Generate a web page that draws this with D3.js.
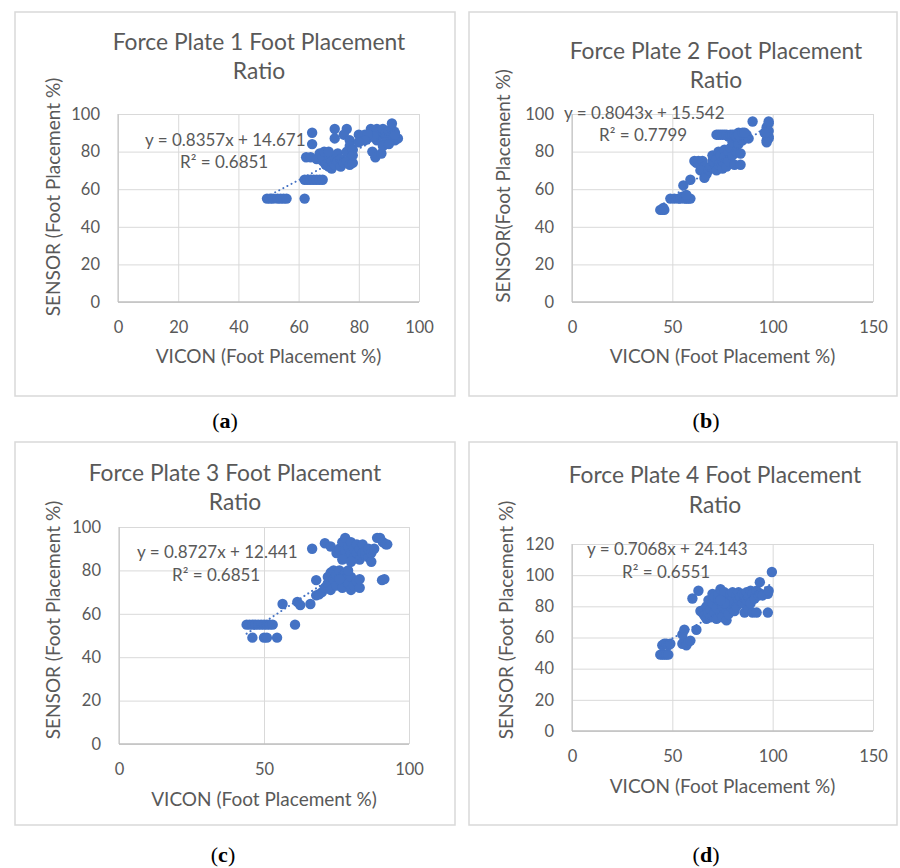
<!DOCTYPE html>
<html>
<head>
<meta charset="utf-8">
<script src="https://cdn.jsdelivr.net/npm/d3@7"></script>
<style>
	body { margin: 0; background: #fff; }
	svg text { font-family: Lato, "Open Sans", sans-serif; fill: #595959; }
	.grid line { stroke: #d9d9d9; stroke-width: 1; }
	.grid path { display: none; }
	.label text { font-family: "Liberation Serif", "DejaVu Serif", serif; fill: #000; }
</style>
</head>
<body>
<svg id="chart" width="900" height="868"></svg>
<script>
// values (VICON %, SENSOR %)
var plate1 = [
	[49.5,55],[50.5,55],[51.5,55],[53,55],[54,55],[55,55],[56,55],[62,55],
	[62,65],[63,65],[64,65],[65,65],[66,65],[67,65],[68,65],
	[62.5,77],[64,77],[64.5,90],[64.5,84],
	[66,76],[67,79],[68,75],[68,77],[69,73],[70,78],[70,72],[71,71],[71,75],[72,77],[72,73],
	[73,79],[73,75],[74,72],[74,76],[75,74],[76,75],[77,73],[78,74],[68.5,80],[70,80],
	[72,92],[76,92],[72,87],[75,89],[77,86],[77,83],[76,80],[78,81],[78,78],
	[80,89],[81,88],[82,89],[83,87],[84,90],[84,92],[85,91],[86,92],[87,89],[87,91],[88,92],
	[89,90],[89,88],[90,87],[90,91],[91,92],[91,95],[92,90],[92,86],[93,87],[92,89],[89,85],
	[86,86],[85,88],[83,89],[84.5,80],[85.5,77],[87.5,79],[88,83],[90,84],[82,86],[80,85]
];
var plate2 = [
	[44,49],[45,49],[46,49],[45.5,50],
	[49,55],[51,55],[53,55],[54,55],[55,56],[56,55],[57,55],[58,55],[59,55],[57,57],
	[55.5,62],[59,65],
	[61,75],[62,74],[63,75],[64,73],[65,75],[66,72],[64,70],[67,68],[66,66],[68,70],[69,72],
	[70,75],[70,78],[71,74],[72,70],[72,76],[73,80],[73,73],[74,78],[75,71],[75,75],[76,81],
	[76,77],[77,72],[78,80],[78,75],[79,82],[80,85],[80,78],[81,73],[82,80],[82,87],[83,84],
	[84,79],[84,73],[85,86],[86,88],[87,89],[88,87],[83,90],[84,89],
	[72,89],[73,89],[74,89],[75,89],[76,89],[77,89],[78,88],[79,89],[80,89],[81,89],[82,88],
	[83,89],[85,90],[86,90],
	[90,96],
	[97,86],[98,87],[97,89],[98,91],[97,93],[98,95],[98,88],[96,90],[98,96],[97,85]
];
var plate3 = [
	[44,55],[45,55],[46,55],[47,55],[48,55],[49,55],[50,55],[51,55],[52,55],[53,55],
	[46,49],[50,49],[51,49],[54.5,49],
	[60.7,55],[56.4,64.5],[61.5,65.5],[62.5,64],[66,64.5],
	[68,68.5],[69,69],[70,70],[68,75.5],[71,72],[72,74],[72,77],[73,79],[73,71],[74,76],[74,80],
	[75,78],[75,73],[76,80],[77,75],[77,72],[78,79],[78,76],[79,74],[80,71],[80,77],[81,73],
	[82,75],[83,72],[83,76],[76,76],[79,80],
	[66.6,90],[71,92.5],[73,91],[75,88],[76,90],[77,87],[77,93],[78,95],[78,89],[79,86],[79,91],
	[80,88],[80,93],[81,90],[81,86],[82,92],[82,88],[83,85],[83,90],[84,88],[84,92],[85,87],
	[85,89],[86,90],[86,86],[87,88],[87,84],[88,90],[77,85],[80,84],
	[89,95],[90,95],[91,93],[92,92],[92.5,92],[90.7,75.5],[91.5,76]
];
var plate4 = [
	[44,49],[45,49],[46,49],[47,49],[48,49],[45,55],[46,56],[47,56],[48,55],[49,56],
	[55,56],[56,58],[57,55],[58,57],[59,58],[55,62],[56,65],[62,65],
	[60,85],[63,90],
	[64,77],[65,76],[66,78],[66,74],[67,72],[67,80],[68,76],[68,84],[69,73],[69,78],[70,82],
	[70,88],[70,74],[71,76],[71,86],[72,72],[72,79],[73,84],[73,88],[74,91],[74,76],[75,80],
	[75,73],[76,86],[76,89],[77,71],[77,78],[78,83],[78,75],[79,88],[79,80],[80,85],[80,89],
	[81,82],[81,77],[82,87],[82,80],[83,89],[83,84],[84,86],[85,88],[85,82],[86,87],[86,76],
	[87,89],[87,84],[88,78],[88,86],[89,90],[89,82],[90,88],[90,76],[91,85],[92,90],[92,76],
	[93,87],[93.6,95.5],[94,88],[95,87],[97.6,76],[97.6,88],[98,90],[99.6,102],[76,82],[74,84]
];

var titles = [
	"Force Plate 1 Foot Placement",
	"Force Plate 2 Foot Placement",
	"Force Plate 3 Foot Placement",
	"Force Plate 4 Foot Placement"
];
var slopes = [0.8357, 0.8043, 0.8727, 0.7068];
var intercepts = [14.671, 15.542, 12.441, 24.143];
var rSquared = ["0.6851", "0.7799", "0.6851", "0.6551"];
var xTicks = [[0, 20, 40, 60, 80, 100], [0, 50, 100, 150], [0, 50, 100], [0, 50, 100, 150]];
var yTicks = [[0, 20, 40, 60, 80, 100], [0, 20, 40, 60, 80, 100], [0, 20, 40, 60, 80, 100], [0, 20, 40, 60, 80, 100, 120]];
var xTitles = ["VICON (Foot Placement %)", "VICON (Foot Placement %)", "VICON (Foot Placement %)", "VICON (Foot Placement %)"];
var yTitles = ["SENSOR (Foot Placement %)", "SENSOR(Foot Placement %)", "SENSOR (Foot Placement %)", "SENSOR (Foot Placement %)"];
var panelLetters = ["a", "b", "c", "d"];

var points = [plate1, plate2, plate3, plate4];

// where each chart sits on the page
var layout = [
	{ frame: [15, 12, 455, 396], plot: [118, 114, 419, 302], titleX: 259, titleY: [50, 79],
		eq: [145, 146], r2: [180, 168], xTitleY: 363, yTitle: [60, 197], label: [225, 428] },
	{ frame: [469, 12, 897, 396], plot: [572, 114, 873, 302], titleX: 716, titleY: [59, 88],
		eq: [564, 119], r2: [599, 141], xTitleY: 363, yTitle: [510, 186], label: [706, 428] },
	{ frame: [15, 442, 455, 825], plot: [119, 527, 409, 744], titleX: 235, titleY: [481, 510],
		eq: [137, 558], r2: [172, 581], xTitleY: 806, yTitle: [60, 620], label: [223, 862] },
	{ frame: [469, 442, 897, 825], plot: [572, 544, 873, 731], titleX: 715, titleY: [483, 513],
		eq: [587, 555], r2: [622, 578], xTitleY: 793, yTitle: [513, 620], label: [706, 862] }
];

var svg = d3.select("#chart");
var blue = "#4472c4";

layout.forEach(function(L, i) {
	var g = svg.append("g");
	var p = L.plot;
	var w = p[2] - p[0], h = p[3] - p[1];

	g.append("rect")
		.attr("x", L.frame[0]).attr("y", L.frame[1])
		.attr("width", L.frame[2] - L.frame[0])
		.attr("height", L.frame[3] - L.frame[1])
		.attr("fill", "#fff")
		.attr("stroke", "#d9d9d9")
		.attr("stroke-width", 1.5);

	var xt = xTicks[i], yt = yTicks[i];
	var x = d3.scaleLinear().domain([xt[0], xt[xt.length - 1]]).range([p[0], p[2]]);
	var y = d3.scaleLinear().domain([yt[0], yt[yt.length - 1]]).range([p[3], p[1]]);

	g.append("g")
		.attr("class", "grid")
		.attr("transform", "translate(0," + p[3] + ")")
		.call(d3.axisBottom(x).tickValues(xt).tickSize(-h).tickPadding(19))
		.call(function(a) { a.selectAll("text").attr("font-size", 16.5).attr("fill", "#595959"); });

	g.append("g")
		.attr("class", "grid")
		.attr("transform", "translate(" + p[0] + ",0)")
		.call(d3.axisLeft(y).tickValues(yt).tickSize(-w).tickPadding(18))
		.call(function(a) { a.selectAll("text").attr("font-size", 16.5).attr("fill", "#595959"); });

	// axis lines
	g.append("line")
		.attr("x1", p[0]).attr("x2", p[2]).attr("y1", p[3]).attr("y2", p[3])
		.attr("stroke", "#bfbfbf").attr("stroke-width", 1.5);
	g.append("line")
		.attr("x1", p[0]).attr("x2", p[0]).attr("y1", p[1]).attr("y2", p[3])
		.attr("stroke", "#bfbfbf").attr("stroke-width", 1);

	g.selectAll(".dot")
		.data(points[i])
		.enter().append("circle")
		.attr("class", "dot")
		.attr("cx", function(d) { return x(d[0]); })
		.attr("cy", function(d) { return y(d[1]); })
		.attr("r", 5.2)
		.attr("fill", blue);

	// linear trendline over the data range
	var ext = d3.extent(points[i], function(d) { return d[0]; });
	g.append("line")
		.attr("x1", x(ext[0])).attr("x2", x(ext[1]))
		.attr("y1", y(slopes[i] * ext[0] + intercepts[i]))
		.attr("y2", y(slopes[i] * ext[1] + intercepts[i]))
		.attr("stroke", blue)
		.attr("stroke-width", 2)
		.attr("stroke-linecap", "round")
		.attr("stroke-dasharray", "0.1,4.5");

	g.append("text")
		.attr("x", L.eq[0]).attr("y", L.eq[1])
		.attr("font-size", 17)
		.text("y = " + slopes[i] + "x + " + intercepts[i]);
	g.append("text")
		.attr("x", L.r2[0]).attr("y", L.r2[1])
		.attr("font-size", 17)
		.text("R² = " + rSquared[i]);

	g.append("text")
		.attr("x", L.titleX).attr("y", L.titleY[0])
		.attr("text-anchor", "middle")
		.attr("font-size", 22.8)
		.text(titles[i]);
	g.append("text")
		.attr("x", L.titleX).attr("y", L.titleY[1])
		.attr("text-anchor", "middle")
		.attr("font-size", 22.8)
		.text("Ratio");

	g.append("text")
		.attr("x", (p[0] + p[2]) / 2).attr("y", L.xTitleY)
		.attr("text-anchor", "middle")
		.attr("font-size", 19)
		.text(xTitles[i]);
	g.append("text")
		.attr("transform", "translate(" + L.yTitle[0] + "," + L.yTitle[1] + ") rotate(-90)")
		.attr("text-anchor", "middle")
		.attr("font-size", 19)
		.text(yTitles[i]);

	var lab = g.append("g").attr("class", "label").append("text")
		.attr("x", L.label[0]).attr("y", L.label[1])
		.attr("text-anchor", "middle")
		.attr("font-size", 22);
	lab.append("tspan").text("(");
	lab.append("tspan").attr("font-weight", "bold").text(panelLetters[i]);
	lab.append("tspan").text(")");
});
</script>
</body>
</html>
